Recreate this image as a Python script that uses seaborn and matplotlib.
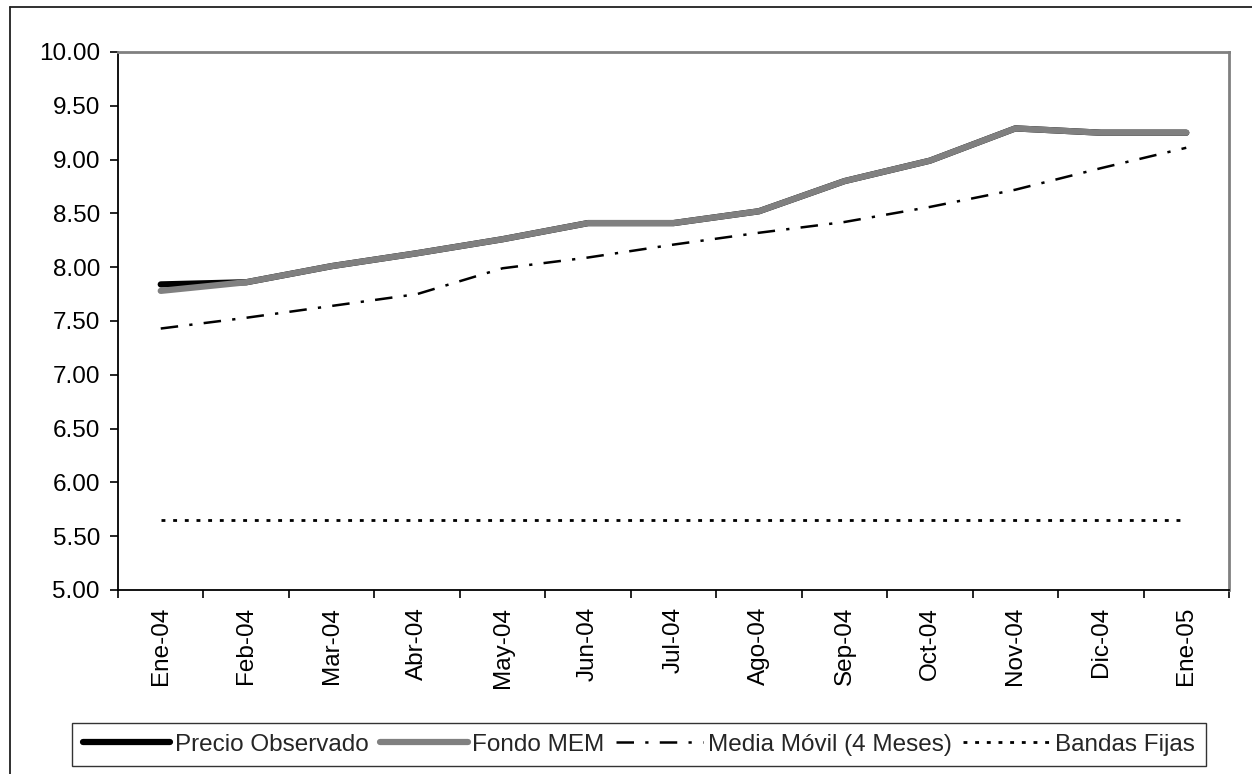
import matplotlib
matplotlib.use("Agg")
import matplotlib.pyplot as plt
from matplotlib.lines import Line2D
import numpy as np
import pandas as pd
import seaborn as sns

# Monthly categories
meses = ["Ene-04", "Feb-04", "Mar-04", "Abr-04", "May-04", "Jun-04", "Jul-04",
         "Ago-04", "Sep-04", "Oct-04", "Nov-04", "Dic-04", "Ene-05"]

# Series values
precio_observado = [7.84, 7.86, 8.01, 8.13, 8.26, 8.41, 8.41, 8.52, 8.80, 8.99, 9.29, 9.25, 9.25]
fondo_mem = [7.78, 7.86, 8.01, 8.13, 8.26, 8.41, 8.41, 8.52, 8.80, 8.99, 9.29, 9.25, 9.25]
media_movil = [7.43, 7.53, 7.64, 7.75, 7.99, 8.09, 8.21, 8.32, 8.42, 8.56, 8.72, 8.92, 9.11]
bandas_fijas = [5.65] * len(meses)

y_ticks = [5.00, 5.50, 6.00, 6.50, 7.00, 7.50, 8.00, 8.50, 9.00, 9.50, 10.00]

sns.set_theme(style="white")
plt.rcParams["font.family"] = ["Liberation Sans", "DejaVu Sans"]
FS = 17.5

fig = plt.figure(figsize=(12.52, 7.74), dpi=100)
W, H = 1252, 774
ax = fig.add_axes([118 / W, 1 - 590 / H, (1229 - 118) / W, (590 - 52) / H])

pos = np.arange(len(meses))
df = pd.DataFrame({
    "pos": pos,
    "Precio Observado": precio_observado,
    "Fondo MEM": fondo_mem,
    "Media Móvil (4 Meses)": media_movil,
    "Bandas Fijas": bandas_fijas,
})

sns.lineplot(data=df, x="pos", y="Precio Observado", ax=ax, color="black",
             linewidth=4.5, solid_capstyle="round", label="Precio Observado")
sns.lineplot(data=df, x="pos", y="Fondo MEM", ax=ax, color="#808080",
             linewidth=4.5, solid_capstyle="round", label="Fondo MEM")
sns.lineplot(data=df, x="pos", y="Media Móvil (4 Meses)", ax=ax, color="black",
             linewidth=1.8, linestyle=(0, (7, 4.5, 1.3, 4.5)), label="Media Móvil (4 Meses)")
sns.lineplot(data=df, x="pos", y="Bandas Fijas", ax=ax, color="black",
             linewidth=2.0, linestyle=(0, (1.4, 2.8)), label="Bandas Fijas")

ax.set_xlim(-0.5, len(meses) - 0.5)
ax.set_ylim(5.0, 10.0)
ax.set_xlabel("")
ax.set_ylabel("")

# y axis
ax.set_yticks(y_ticks)
ax.set_yticklabels([f"{v:.2f}" for v in y_ticks], fontsize=FS, color="black")
ax.tick_params(axis="y", which="major", direction="out", length=6, width=1.2,
               color="black", pad=7, left=True)

# x axis: ticks between categories, labels centred on categories
ax.set_xticks(np.arange(-0.5, len(meses), 1.0))
ax.set_xticklabels([])
ax.set_xticks(pos, minor=True)
ax.set_xticklabels(meses, minor=True, rotation=90, fontsize=FS, color="black",
                   ha="center", va="top")
ax.tick_params(axis="x", which="major", direction="out", length=6, width=1.2,
               color="black", bottom=True)
ax.tick_params(axis="x", which="minor", length=0, pad=12, bottom=True)

ax.grid(False)
for side in ["left", "bottom"]:
    ax.spines[side].set_color("black")
    ax.spines[side].set_linewidth(1.3)
for side in ["top", "right"]:
    ax.spines[side].set_color("#808080")
    ax.spines[side].set_linewidth(2.0)

ax.legend_.remove()
handles, labels = ax.get_legend_handles_labels()
leg = fig.legend(handles, labels, loc="center",
                 bbox_to_anchor=((70 + 1208) / 2 / W, 1 - 744.5 / H),
                 ncol=4, fontsize=FS, frameon=True, fancybox=False,
                 handlelength=3.6, handletextpad=0.2, columnspacing=0.45,
                 borderpad=0.45, borderaxespad=0)
leg.get_frame().set_edgecolor("black")
leg.get_frame().set_linewidth(1.0)

# outer chart frame
fig.add_artist(Line2D([10 / W, 10 / W], [0, 1 - 7 / H], transform=fig.transFigure,
                      color="#202020", linewidth=1.3))
fig.add_artist(Line2D([10 / W, 1], [1 - 7 / H, 1 - 7 / H], transform=fig.transFigure,
                      color="#202020", linewidth=1.3))

fig.savefig("out.png", dpi=100, facecolor="white")
